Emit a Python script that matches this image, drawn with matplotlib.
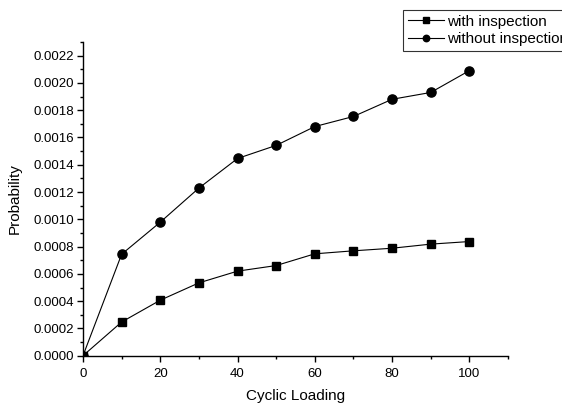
import matplotlib
matplotlib.use("Agg")
import matplotlib.pyplot as plt
from matplotlib.ticker import MultipleLocator

plt.rcParams['font.family'] = ['Liberation Sans', 'DejaVu Sans']

cycles = [0, 10, 20, 30, 40, 50, 60, 70, 80, 90, 100]
with_insp = [0.0, 0.000247, 0.000407, 0.000534, 0.00062, 0.000661, 0.000747, 0.000769, 0.000788, 0.000818, 0.000837]
without_insp = [0.0, 0.000744, 0.000979, 0.001229, 0.001446, 0.001542, 0.00168, 0.001754, 0.00188, 0.00193, 0.00209]
ytick_vals = [0.0, 0.0002, 0.0004, 0.0006, 0.0008, 0.0010, 0.0012, 0.0014, 0.0016, 0.0018, 0.0020, 0.0022]
ytick_labels = ['0.0000', '0.0002', '0.0004', '0.0006', '0.0008', '0.0010',
                '0.0012', '0.0014', '0.0016', '0.0018', '0.0020', '0.0022']

W, H = 562, 403
fig = plt.figure(figsize=(W/100, H/100), dpi=100)
ax = fig.add_axes([83/W, 1-355.7/H, (508-83)/W, (355.7-42)/H])

l1, = ax.plot(cycles, with_insp, color='black', lw=0.8, marker='s', ms=5.8, label='with inspection')
l2, = ax.plot(cycles, without_insp, color='black', lw=0.8, marker='o', ms=6.6, label='without inspection')

ax.set_xlim(0, 110)
ax.set_ylim(0, 0.0023)
ax.xaxis.set_major_locator(MultipleLocator(20))
ax.xaxis.set_minor_locator(MultipleLocator(10))
ax.set_yticks(ytick_vals)
ax.set_yticklabels(ytick_labels)
ax.yaxis.set_minor_locator(MultipleLocator(0.0001))

for s in ['top', 'right']:
    ax.spines[s].set_visible(False)
for s in ['left', 'bottom']:
    ax.spines[s].set_linewidth(1.0)
ax.tick_params(which='major', direction='out', length=4.5, width=1.0, labelsize=9.5, pad=2)
ax.tick_params(axis='x', which='major', pad=4)
ax.tick_params(which='minor', direction='out', length=2.5, width=1.0)

ax.set_xlabel('Cyclic Loading', fontsize=11, labelpad=7)
ax.set_ylabel('Probability', fontsize=11, labelpad=8)

leg = fig.legend(handles=[l1, l2], loc='upper left',
                 bbox_to_anchor=(403/W, 1-10/H), bbox_transform=fig.transFigure,
                 fontsize=11, frameon=True, fancybox=False, shadow=False,
                 handlelength=2.4, handletextpad=0.2, labelspacing=0.22,
                 borderpad=0.3, borderaxespad=0, markerscale=0.7)
leg.get_frame().set_edgecolor('black')
leg.get_frame().set_linewidth(0.8)

fig.savefig('out.png', dpi=100)
